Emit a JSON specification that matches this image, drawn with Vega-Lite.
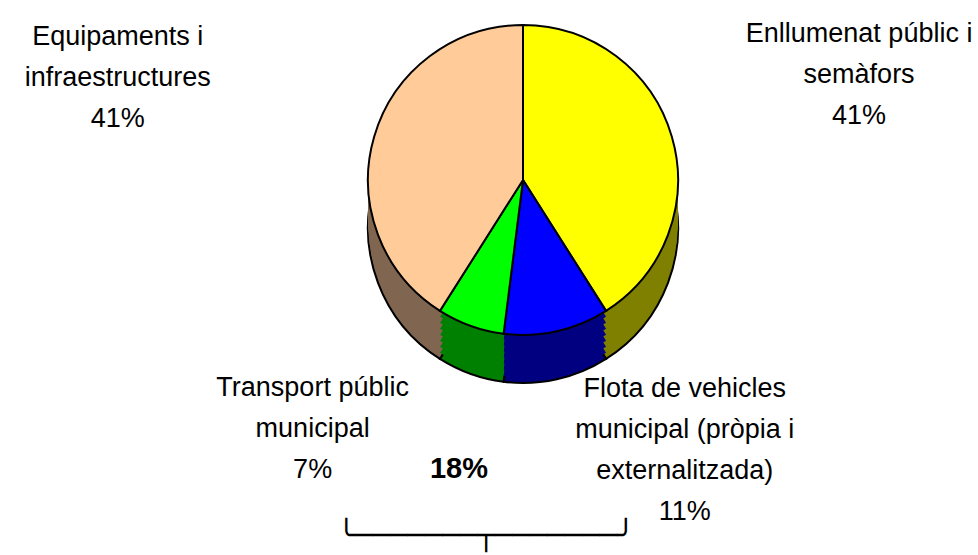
{
  "$schema": "https://vega.github.io/schema/vega-lite/v6.json",
  "width": 910,
  "height": 360,
  "autosize": "none",
  "padding": {"left": 68, "top": 0, "right": 0, "bottom": 195},
  "background": "white",
  "config": {
    "view": {"stroke": null},
    "text": {"font": "Liberation Sans", "fontSize": 27, "lineHeight": 41, "lineBreak": "\n", "color": "black"}
  },
  "data": {
    "values": [
      {"category": "Enllumenat públic i semàfors", "name": "Enllumenat públic i\nsemàfors", "value": 41, "ord": 1},
      {"category": "Flota de vehicles municipal (pròpia i externalitzada)", "name": "Flota de vehicles\nmunicipal (pròpia i\nexternalitzada)", "value": 11, "ord": 2},
      {"category": "Transport públic municipal", "name": "Transport públic\nmunicipal", "value": 7, "ord": 3},
      {"category": "Equipaments i infraestructures", "name": "Equipaments i\ninfraestructures", "value": 41, "ord": 4}
    ]
  },
  "transform": [{"calculate": "datum.name + '\\n' + datum.value + '%'", "as": "label"}],
  "layer": [
    {
      "mark": {"type": "arc", "outerRadius": 155, "yOffset": 48, "stroke": "black", "strokeWidth": 2},
      "encoding": {
        "theta": {"field": "value", "type": "quantitative", "stack": true},
        "order": {"field": "ord", "type": "quantitative"},
        "fill": {"field": "category", "type": "nominal", "legend": null,
          "scale": {"domain": ["Enllumenat públic i semàfors", "Flota de vehicles municipal (pròpia i externalitzada)", "Transport públic municipal", "Equipaments i infraestructures"],
                    "range": ["#808000", "#000080", "#008000", "#806650"]}}
      }
    },
    {"mark": {"type": "arc", "outerRadius": 155, "yOffset": 42, "strokeWidth": 0},
      "encoding": {"theta": {"field": "value", "type": "quantitative", "stack": true}, "order": {"field": "ord", "type": "quantitative"}, "fill": {"field": "category", "type": "nominal", "legend": null}}},
    {"mark": {"type": "arc", "outerRadius": 155, "yOffset": 36, "strokeWidth": 0},
      "encoding": {"theta": {"field": "value", "type": "quantitative", "stack": true}, "order": {"field": "ord", "type": "quantitative"}, "fill": {"field": "category", "type": "nominal", "legend": null}}},
    {"mark": {"type": "arc", "outerRadius": 155, "yOffset": 30, "strokeWidth": 0},
      "encoding": {"theta": {"field": "value", "type": "quantitative", "stack": true}, "order": {"field": "ord", "type": "quantitative"}, "fill": {"field": "category", "type": "nominal", "legend": null}}},
    {"mark": {"type": "arc", "outerRadius": 155, "yOffset": 24, "strokeWidth": 0},
      "encoding": {"theta": {"field": "value", "type": "quantitative", "stack": true}, "order": {"field": "ord", "type": "quantitative"}, "fill": {"field": "category", "type": "nominal", "legend": null}}},
    {"mark": {"type": "arc", "outerRadius": 155, "yOffset": 18, "strokeWidth": 0},
      "encoding": {"theta": {"field": "value", "type": "quantitative", "stack": true}, "order": {"field": "ord", "type": "quantitative"}, "fill": {"field": "category", "type": "nominal", "legend": null}}},
    {"mark": {"type": "arc", "outerRadius": 155, "yOffset": 12, "strokeWidth": 0},
      "encoding": {"theta": {"field": "value", "type": "quantitative", "stack": true}, "order": {"field": "ord", "type": "quantitative"}, "fill": {"field": "category", "type": "nominal", "legend": null}}},
    {"mark": {"type": "arc", "outerRadius": 155, "yOffset": 6, "strokeWidth": 0},
      "encoding": {"theta": {"field": "value", "type": "quantitative", "stack": true}, "order": {"field": "ord", "type": "quantitative"}, "fill": {"field": "category", "type": "nominal", "legend": null}}},
    {
      "mark": {"type": "arc", "outerRadius": 155, "stroke": "black", "strokeWidth": 2},
      "encoding": {
        "theta": {"field": "value", "type": "quantitative", "stack": true},
        "order": {"field": "ord", "type": "quantitative"},
        "color": {"field": "category", "type": "nominal", "legend": null,
          "scale": {"domain": ["Enllumenat públic i semàfors", "Flota de vehicles municipal (pròpia i externalitzada)", "Transport públic municipal", "Equipaments i infraestructures"],
                    "range": ["#FFFF00", "#0000FF", "#00FF00", "#FFCC99"]}}
      }
    },
    {
      "mark": {"type": "text", "radius": 420, "dx": -2, "dy": -26, "align": "center", "baseline": "middle"},
      "encoding": {
        "theta": {"field": "value", "type": "quantitative", "stack": true},
        "order": {"field": "ord", "type": "quantitative"},
        "text": {"condition": {"test": "datum.ord === 4", "field": "label"}, "value": ""}
      }
    },
    {
      "mark": {"type": "text", "radius": 350, "dy": -48, "align": "center", "baseline": "middle"},
      "encoding": {
        "theta": {"field": "value", "type": "quantitative", "stack": true},
        "order": {"field": "ord", "type": "quantitative"},
        "text": {"condition": {"test": "datum.ord === 1", "field": "label"}, "value": ""}
      }
    },
    {
      "mark": {"type": "text", "radius": 252, "dx": -125, "dy": -29, "align": "center", "baseline": "middle"},
      "encoding": {
        "theta": {"field": "value", "type": "quantitative", "stack": true},
        "order": {"field": "ord", "type": "quantitative"},
        "text": {"condition": {"test": "datum.ord === 3", "field": "label"}, "value": ""}
      }
    },
    {
      "mark": {"type": "text", "radius": 265, "dx": 104, "dy": -50, "align": "center", "baseline": "middle"},
      "encoding": {
        "theta": {"field": "value", "type": "quantitative", "stack": true},
        "order": {"field": "ord", "type": "quantitative"},
        "text": {"condition": {"test": "datum.ord === 2", "field": "label"}, "value": ""}
      }
    },
    {
      "transform": [
        {"filter": "datum.ord === 2 || datum.ord === 3"},
        {"aggregate": [{"op": "sum", "field": "value", "as": "total"}]},
        {"calculate": "datum.total + '%'", "as": "totalLabel"}
      ],
      "mark": {"type": "text", "fontSize": 29, "fontWeight": "bold", "align": "center", "baseline": "alphabetic", "dx": -64, "dy": 298},
      "encoding": {"text": {"field": "totalLabel"}}
    },
    {
      "transform": [
        {"filter": "datum.ord === 2 || datum.ord === 3"},
        {"aggregate": [{"op": "sum", "field": "value", "as": "total"}]}
      ],
      "mark": {"type": "text", "font": "DejaVu Sans Mono", "fontSize": 29, "align": "center", "baseline": "alphabetic", "dx": -37, "dy": 365},
      "encoding": {"text": {"value": "╰───────┬───────╯"}}
    }
  ]
}
